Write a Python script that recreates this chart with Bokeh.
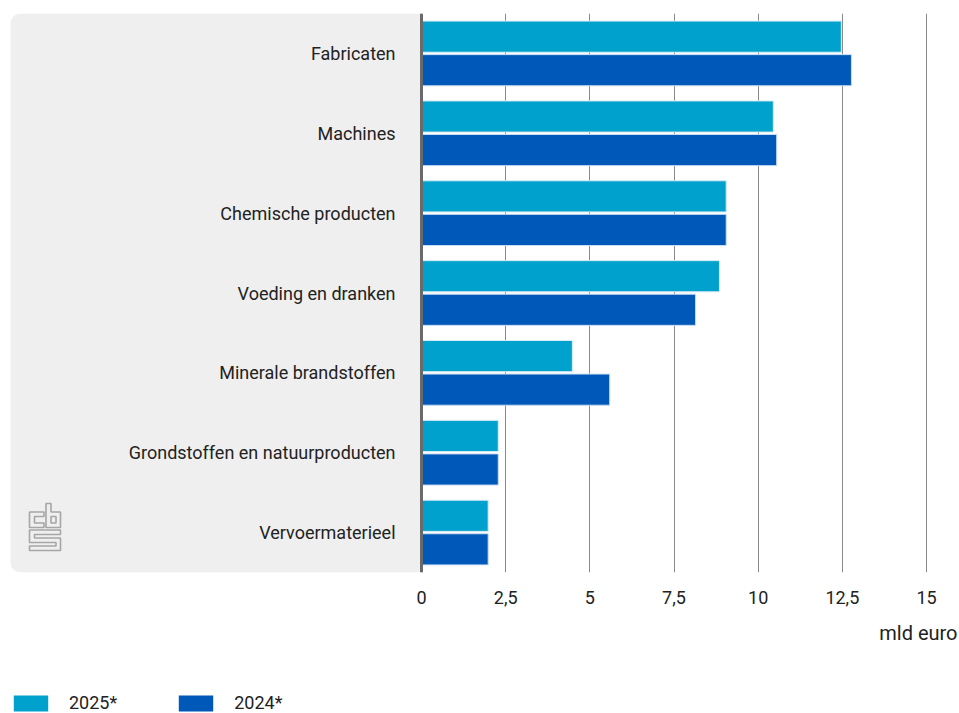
from bokeh.plotting import figure
from bokeh.layouts import column
from bokeh.models import (ColumnDataSource, FactorRange, Range1d, FixedTicker, BoxAnnotation,
                          Span, Title, Legend, LegendItem)
from bokeh.transform import dodge
from bokeh.core.properties import value
from bokeh.embed import file_html
from bokeh.resources import INLINE

# ---- data ----
categories = ["Fabricaten", "Machines", "Chemische producten", "Voeding en dranken",
              "Minerale brandstoffen", "Grondstoffen en natuurproducten", "Vervoermaterieel"]
v2025 = [12.47, 10.45, 9.05, 8.85, 4.48, 2.28, 1.98]
v2024 = [12.77, 10.55, 9.05, 8.14, 5.59, 2.28, 1.98]
series_names = ["2025*", "2024*"]
tick_values = [0, 2.5, 5, 7.5, 10, 12.5, 15]
tick_labels = ["0", "2,5", "5", "7,5", "10", "12,5", "15"]
unit_label = "mld euro"

C2025 = "#00a1cd"
C2024 = "#0058b8"
FONT = "Roboto"
TXT = "#222222"

W, H = 959, 660
H2 = 713 - H
TOP, BOTTOM = 13, 88
X0, X1 = -12.505, 15.980

src = ColumnDataSource(dict(cat=categories, v2025=v2025, v2024=v2024))

p = figure(width=W, height=H, output_backend="svg", toolbar_location=None,
           y_range=FactorRange(factors=list(reversed(categories)), range_padding=0),
           x_range=Range1d(X0, X1),
           min_border_left=0, min_border_right=0, min_border_top=TOP, min_border_bottom=BOTTOM)
p.outline_line_color = None
p.background_fill_color = "white"
p.border_fill_color = "white"

# grey panel behind labels
panel = BoxAnnotation(left=-12.208, right=0, fill_color="#efefef", fill_alpha=1,
                      line_color=None, level="underlay",
                      border_radius=dict(top_left=10, bottom_left=10, top_right=0, bottom_right=0))
p.add_layout(panel)

bar_kw = dict(source=src, left=0, height=0.39, line_width=1)
r1 = p.hbar(y=dodge("cat", 0.21, range=p.y_range), right="v2025",
            fill_color=C2025, line_color="#d4ecf5", **bar_kw)
r2 = p.hbar(y=dodge("cat", -0.21, range=p.y_range), right="v2024",
            fill_color=C2024, line_color="#c9dcf2", **bar_kw)

p.text(x=0, y="cat", text="cat", source=src, x_offset=-26, text_align="right",
       text_baseline="middle", text_font=value(FONT), text_font_size="18px", text_color=TXT)

# axis line at zero
p.add_layout(Span(location=0, dimension="height", line_color="#6a6a6a", line_width=3))

# axes
p.yaxis.visible = False
ax = p.xaxis[0]
ax.ticker = FixedTicker(ticks=tick_values)
ax.major_label_overrides = {t: l for t, l in zip(tick_values, tick_labels)}
ax.axis_line_color = None
ax.major_tick_line_color = None
ax.minor_tick_line_color = None
ax.major_label_standoff = 12
ax.major_label_text_font = FONT
ax.major_label_text_font_size = "18px"
ax.major_label_text_color = TXT

p.xgrid.ticker = FixedTicker(ticks=tick_values)
p.xgrid.grid_line_color = "#8a8a8a"
p.xgrid.grid_line_width = 1
p.ygrid.grid_line_color = None

p.add_layout(Title(text=unit_label, align="right", text_font=FONT, text_font_size="20px",
                   text_font_style="normal", text_color=TXT, standoff=24, offset=2), "below")

# CBS logo (decoration)
sx = W / (X1 - X0)
sy = (H - TOP - BOTTOM) / len(categories)
lx0 = X0 + 29 / sx
ly0 = len(categories) - (503 - TOP) / sy
shapes = [
    [(0, 8.5), (14.5, 8.5), (14.5, 13), (5, 13), (5, 19.5), (14.5, 19.5), (14.5, 24), (0, 24)],
    [(16.5, 0), (21.5, 0), (21.5, 8.5), (31, 8.5), (31, 24), (16.5, 24)],
    [(21.5, 13), (26.5, 13), (26.5, 19.5), (21.5, 19.5)],
    [(0, 26.5), (31, 26.5), (31, 31), (5, 31), (5, 34.5), (31, 34.5), (31, 47), (0, 47),
     (0, 42.5), (26.5, 42.5), (26.5, 39), (0, 39)],
]
xs = [[lx0 + a / sx for a, b in s] for s in shapes]
ys = [[ly0 - b / sy for a, b in s] for s in shapes]
p.patches(xs, ys, fill_color=None, line_color="#a6a6a6", line_width=1.6)

# legend strip (separate figure so it is not clipped)
q = figure(width=W, height=H2, output_backend="svg", toolbar_location=None,
           x_range=Range1d(0, 1), y_range=Range1d(0, 1),
           min_border=0, min_border_left=0, min_border_right=0, min_border_top=0,
           min_border_bottom=0)
q.axis.visible = False
q.grid.visible = False
q.outline_line_color = None
swatch = ColumnDataSource(dict(y=[-5], r=[0]))
l1 = q.hbar(y="y", right="r", left=0, height=1, source=swatch, fill_color=C2025, line_color=None)
l2 = q.hbar(y="y", right="r", left=0, height=1, source=swatch, fill_color=C2024, line_color=None)
legend = Legend(items=[LegendItem(label=series_names[0], renderers=[l1]),
                       LegendItem(label=series_names[1], renderers=[l2])],
                orientation="horizontal", location=(9, 0),
                glyph_width=43, glyph_height=20, label_standoff=17, spacing=57,
                padding=0, margin=0, border_line_color=None, background_fill_alpha=0,
                label_text_font=FONT, label_text_font_size="18px", label_text_color=TXT)
q.add_layout(legend)

open("out.html", "w").write(file_html(column(p, q, spacing=0), INLINE))
